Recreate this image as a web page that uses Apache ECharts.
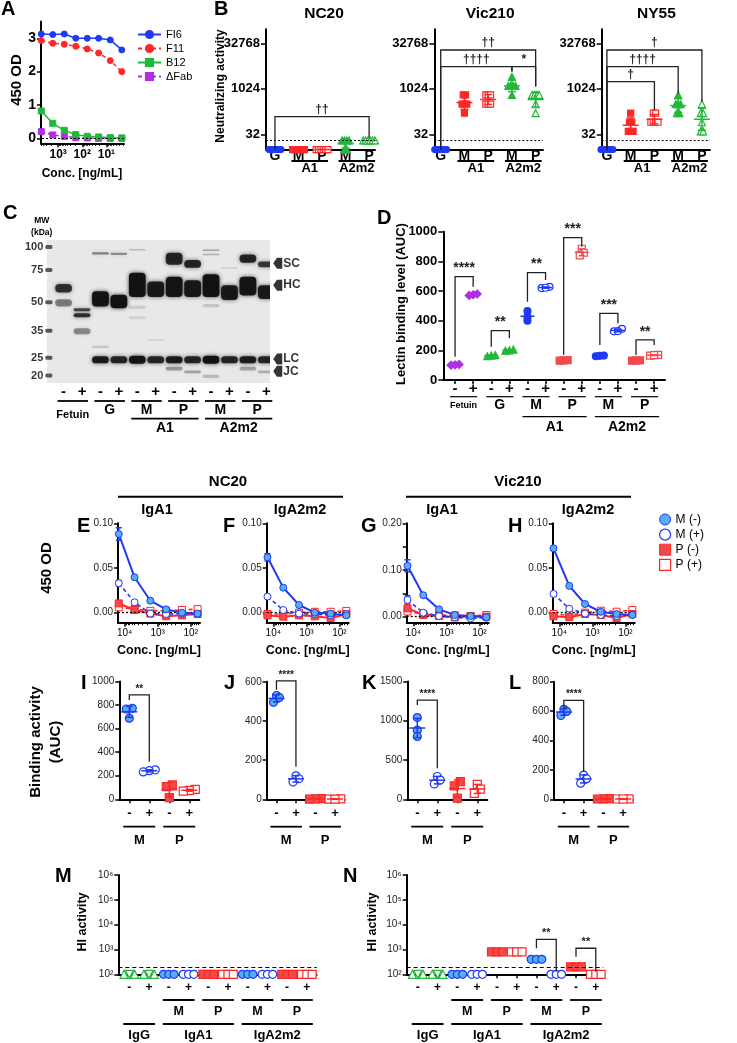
<!DOCTYPE html>
<html><head><meta charset="utf-8">
<script src="https://cdn.jsdelivr.net/npm/echarts@6.0.0/dist/echarts.min.js"></script>
<style>html,body{margin:0;padding:0;background:#fff;}#c{width:737px;height:1043px;}</style>
</head><body><div id="c"></div>
<script>
const FONT = '"Liberation Sans", Arial, Helvetica, sans-serif';
const SUP = {1:'¹',2:'²',3:'³',4:'⁴',5:'⁵',6:'⁶'};
const pow10 = v => '10' + SUP[Math.round(v)];

/* ---------- Panel A : ELISA curves ---------- */
const concA = [5000, 1667, 556, 185, 62, 21, 6.9, 2.3];
const odFI6 = [3.13, 3.11, 3.13, 3.00, 3.00, 3.00, 2.95, 2.65];
const odF11 = [2.93, 2.85, 2.82, 2.76, 2.68, 2.56, 2.33, 2.00];
const odB12 = [0.82, 0.45, 0.24, 0.11, 0.06, 0.04, 0.02, 0.01];
const odDFab = [0.20, 0.10, 0.06, 0.02, 0.01, 0.00, 0.00, 0.00];
const aXTicks = [1000, 100, 10];
const aYTicks = [0, 1, 2, 3];

/* ---------- Panel B : neutralizing titers ---------- */
const bCats = ['G', 'M', 'P', 'M', 'P'];
const bGroups = ['A1', 'A2m2'];
const bTitles = ['NC20', 'Vic210', 'NY55'];
const bYTicks = [32, 1024, 32768];
const bLimit = 20;
const nc20 = [[10,10,10,10,10,10],[10,10,10,10,10,10],[10,10,10,10,10,10],[20,20,20,20,10,10],[20,20,20,20,20,20]];
const vic210 = [[10,10,10,10,10,10],[640,640,320,320,320,160],[640,640,640,320,320,320],[2560,1280,1280,1280,1280,640],[640,640,640,640,320,160]];
const ny55 = [[10,10,10,10,10,10],[160,80,80,40,40,40],[160,160,80,80,80,80],[640,320,320,320,160,160],[320,160,160,80,40,40]];
const nc20Brk = [[0,4,10,123,25,'††']];
const vic210Brk = [[0,4,10,19700,1210,'††'],[0,3,10,5560,3800,'††††'],[3,4,3800,5560,1210,'*']];
const ny55Brk = [[0,4,10,19700,385,'†'],[0,3,10,5560,724,'††††'],[0,2,10,1770,204,'†']];

/* ---------- Panel C : gel ---------- */
const mwLadder = [100, 75, 50, 35, 25, 20];
const gelSigns = ['-','+','-','+','-','+','-','+','-','+','-','+'];
const gelPairs = ['Fetuin','G','M','P','M','P'];
const chainLabels = ['SC','HC','LC','JC'];
const chainKDa = [81.5, 62, 24.6, 21.1];
// [lane, kDa top, kDa bottom, intensity]
const gelBands = [
 [1,63,56.5,0.78],[1,52,47.5,0.45],
 [2,46.5,44.8,0.7],[2,43.6,41.5,0.8],[2,36.2,33.5,0.4],
 [3,93.5,91,0.45],[3,57.5,47.5,0.96],[3,29,28.2,0.15],[3,25.5,23.3,0.9],
 [4,93,90.5,0.4],[4,55,46.5,0.97],[4,25.5,23.3,0.85],
 [5,97.5,96,0.2],[5,72.5,53.5,0.96],[5,25.6,23.2,0.95],[5,48,46,0.12],[5,42,40.5,0.1],
 [6,65,53.5,0.92],[6,25.5,23.3,0.85],[6,31.5,30.8,0.1],
 [7,93,80,0.85],[7,69,53.5,0.95],[7,25.5,23.3,0.9],[7,22.3,21.3,0.35],
 [8,85,77,0.85],[8,66,53.5,0.92],[8,25.5,23.3,0.85],[8,21.3,20.6,0.3],
 [9,97,95,0.3],[9,92,90.5,0.25],[9,71,53.5,0.97],[9,25.6,23.2,0.97],[9,49,47,0.15],[9,20.2,19.4,0.2],
 [10,62,51.5,0.92],[10,25.5,23.3,0.85],[10,77.5,76.5,0.1],
 [11,91,82,0.85],[11,69,54.5,0.95],[11,25.5,23.3,0.9],[11,22.3,21.3,0.3],
 [12,83.5,77.6,0.75],[12,62,52.2,0.9],[12,25.5,23.3,0.85],[12,21.3,20.6,0.25]
];

/* ---------- Panel D : lectin binding ---------- */
const dSigns = ['-','+','-','+','-','+','-','+','-','+','-','+'];
const dPairs = ['Fetuin','G','M','P','M','P'];
const dAUC = [[100,105,102],[570,580,575],[160,165,168],[198,205,200],[465,425,400],[628,620,622],[132,130,134],[885,858,840],[160,163,165],[345,328,330],[132,130,133],[170,165,168]];
const dYTicks = [0, 200, 400, 600, 800, 1000];
const dBrk = [[0,1,157,697,629,'****'],[2,3,225,333,281,'**'],[4,5,528,724,674,'**'],[6,7,169,960,899,'***'],[8,9,236,449,382,'***'],[10,11,169,270,236,'**']];

/* ---------- Panels E-H : ELISA after treatment ---------- */
const concEH = [15000, 5000, 1667, 556, 185, 62];
const ehXTicks = [10000, 1000, 100];
const eMNeg = [0.088, 0.0396, 0.0134, 0.0037, 0.000, -0.001];
const eMPos = [0.033, 0.0116, -0.001, -0.0015, -0.001, -0.0015];
const ePNeg = [0.0104, 0.003, -0.001, -0.004, -0.003, -0.0015];
const ePPos = [0.006, 0.004, 0.002, 0.002, 0.003, 0.004];
const fMNeg = [0.062, 0.028, 0.0086, 0.000, -0.001, -0.003];
const fMPos = [0.018, 0.003, -0.001, -0.0015, -0.003, -0.0015];
const fPNeg = [-0.003, -0.0045, -0.003, -0.004, -0.006, -0.0015];
const fPPos = [-0.0015, -0.0015, 0.000, 0.001, 0.001, 0.002];
const gMNeg = [0.109, 0.046, 0.0157, 0.0036, 0.0014, -0.0014];
const gMPos = [0.036, 0.0086, 0.0014, -0.0014, -0.0036, -0.002];
const gPNeg = [0.018, 0.0036, 0.0014, -0.0014, 0.0014, 0.000];
const gPPos = [0.011, 0.0057, 0.0036, 0.0029, 0.0014, 0.0036];
const hMNeg = [0.072, 0.030, 0.0097, 0.001, -0.0015, -0.0026];
const hMPos = [0.021, 0.0045, -0.001, -0.0026, -0.0037, -0.002];
const hPNeg = [-0.004, -0.005, -0.0015, -0.0026, -0.006, -0.0015];
const hPPos = [-0.0015, -0.0026, 0.000, 0.0022, 0.0011, 0.003];
const sdFirstMNeg = [0.007, 0.004, 0.013, 0.002];
const sdFirstMPos = [0.003, 0.002, 0.009, 0.002];
const ehSeriesNames = ['M (-)', 'M (+)', 'P (-)', 'P (+)'];

/* ---------- Panels I-L : binding AUC ---------- */
const ilSigns = ['-','+','-','+'];
const ilPairs = ['M','P'];
const aucI = [[772,766,688],[250,243,232],[122,108,14],[85,75,70]];
const aucJ = [[530,520,495],[120,105,88],[3,2,1],[2,1,1]];
const aucK = [[1040,880,800],[290,245,195],[225,170,15],[190,130,75]];
const aucL = [[612,598,570],[165,140,110],[5,3,2],[3,2,2]];
const brkI = [[0,1,842,885,319,'**']];
const brkJ = [[0,1,560,605,166,'****']];
const brkK = [[0,1,1200,1263,394,'****']];
const brkL = [[0,1,617,673,188,'****']];

/* ---------- Panels M-N : HI activity ---------- */
const hiSigns = ['-','+','-','+','-','+','-','+','-','+'];
const hiSub = ['M','P','M','P'];
const hiGroups = ['IgG','IgA1','IgA2m2'];
const hiYTicks = [100, 1000, 10000, 100000, 1000000];
const hiLimit = 200;
const hiM = [[100,100,100],[100,100,100],[100,100,100],[100,100,100],[100,100,100],[100,100,100],[100,100,100],[100,100,100],[100,100,100],[100,100,100]];
const hiN = [[100,100,100],[100,100,100],[100,100,100],[100,100,100],[800,800,800],[800,800,800],[400,400,400],[100,100,100],[200,200,200],[100,100,100]];
const brkN = [[6,7,1120,2570,128,'**'],[8,9,513,1120,128,'**']];

/* ================= builders ================= */
const BLUE = '#1f3af5', RED = '#ff2626', GREEN = '#22b83a', PURPLE = '#b02fe0', LBLUE = '#55aef0', LRED = '#f04a4a';
const grids = [], xAxes = [], yAxes = [], series = [];

function mkAxis(gi, o) {
  return {
    gridIndex: gi, type: 'value', position: o.position, min: o.min, max: o.max, inverse: !!o.inverse,
    splitLine: {show: false}, minorTick: {show: false}, silent: true,
    axisLine: {show: o.line !== false, onZero: false, lineStyle: {color: '#000', width: o.lw || 2}},
    axisTick: {show: !!o.ticks, customValues: o.ticks || [], length: o.tickLen || 4, lineStyle: {color: '#000', width: o.tw || 1.5}},
    axisLabel: {show: !!o.labels, customValues: o.labels || [], formatter: o.fmt, margin: o.margin == null ? 4 : o.margin,
      color: o.lc || '#000', fontFamily: FONT, fontSize: o.fs || 11, fontWeight: o.fw || 'normal', hideOverlap: false}
  };
}
function grid(g) {
  const gi = grids.length;
  grids.push({left: g.left, top: g.top, width: g.width, height: g.height, show: !!g.bg, backgroundColor: g.bg || 'transparent', borderWidth: 0});
  const xi = xAxes.length; xAxes.push(mkAxis(gi, Object.assign({position: 'bottom'}, g.x)));
  const yi = yAxes.length; yAxes.push(mkAxis(gi, Object.assign({position: 'left'}, g.y)));
  if (g.xMinor) xAxes.push(mkAxis(gi, {position: 'bottom', min: g.x.min, max: g.x.max, inverse: g.x.inverse, line: false, ticks: g.xMinor, tickLen: 2.5, tw: 1}));
  return {gi, xi, yi};
}
function minorLog(lo, hi) {
  const out = [];
  for (let n = 0; n <= 5; n++) for (let k = 2; k <= 9; k++) { const v = Math.log10(k * Math.pow(10, n)); if (v > lo && v < hi) out.push(v); }
  return out;
}
function spread(vals, tol, s) {
  const idx = vals.map((v, i) => i).sort((a, b) => vals[a] - vals[b]);
  const off = new Array(vals.length).fill(0);
  let i = 0;
  while (i < idx.length) {
    let j = i;
    while (j + 1 < idx.length && vals[idx[j + 1]] - vals[idx[i]] <= tol) j++;
    const n = j - i + 1;
    for (let k = 0; k < n; k++) off[idx[i + k]] = (k - (n - 1) / 2) * s;
    i = j + 1;
  }
  return off;
}
function stat(a) {
  const m = a.reduce((s, v) => s + v, 0) / a.length;
  const sd = a.length > 1 ? Math.sqrt(a.reduce((s, v) => s + (v - m) * (v - m), 0) / (a.length - 1)) : 0;
  return [m, sd];
}
function dots(ref, x, vals, st, s, tol) {
  const off = spread(vals, tol, s);
  series.push({type: 'scatter', xAxisIndex: ref.xi, yAxisIndex: ref.yi, clip: false, silent: true, z: 3,
    symbol: st.symbol, symbolSize: st.size,
    itemStyle: {color: st.fill, borderColor: st.stroke, borderWidth: st.bw || 1.2, opacity: 1},
    data: vals.map((v, i) => ({value: [x + off[i], v], symbolRotate: st.rot ? st.rot[i % st.rot.length] : 0}))});
}
function meanSd(ref, items, hw, cw, color, lw) {
  series.push({type: 'custom', xAxisIndex: ref.xi, yAxisIndex: ref.yi, silent: true, z: 4, clip: false,
    data: items,
    renderItem: (p, api) => {
      const x = api.value(0), m = api.value(1), sd = api.value(2);
      const pm = api.coord([x, m]), pt = api.coord([x, m + sd]), pb = api.coord([x, m - sd]);
      const st = {stroke: color, lineWidth: lw};
      const ch = [];
      if (hw > 0) ch.push({type: 'line', shape: {x1: pm[0] - hw, y1: pm[1], x2: pm[0] + hw, y2: pm[1]}, style: st});
      if (sd > 0) {
        ch.push({type: 'line', shape: {x1: pm[0], y1: pt[1], x2: pm[0], y2: pb[1]}, style: st});
        ch.push({type: 'line', shape: {x1: pm[0] - cw, y1: pt[1], x2: pm[0] + cw, y2: pt[1]}, style: st});
        ch.push({type: 'line', shape: {x1: pm[0] - cw, y1: pb[1], x2: pm[0] + cw, y2: pb[1]}, style: st});
      }
      return {type: 'group', children: ch};
    }});
}
function brackets(ref, list, tf, fs, fw) {
  series.push({type: 'custom', xAxisIndex: ref.xi, yAxisIndex: ref.yi, silent: true, z: 5, clip: false,
    data: list.map(b => [b[0], b[1], tf(b[2]), tf(b[3]), tf(b[4])]),
    renderItem: (p, api) => {
      const x1 = api.value(0), x2 = api.value(1);
      const a = api.coord([x1, api.value(2)]), b = api.coord([x1, api.value(3)]), c = api.coord([x2, api.value(3)]), d = api.coord([x2, api.value(4)]);
      return {type: 'group', children: [
        {type: 'polyline', shape: {points: [a, b, c, d]}, style: {stroke: '#222', lineWidth: 1.3, fill: 'none'}},
        {type: 'text', x: (b[0] + c[0]) / 2, y: b[1] - 1, style: {text: list[p.dataIndex][5], fill: '#222', fontFamily: FONT, fontSize: fs, fontWeight: fw || 'bold', align: 'center', verticalAlign: 'bottom', textAlign: 'center', textVerticalAlign: 'bottom'}}
      ]};
    }});
}
function hline(ref, y, type, w) {
  series.push({type: 'scatter', xAxisIndex: ref.xi, yAxisIndex: ref.yi, data: [], silent: true,
    markLine: {silent: true, symbol: ['none', 'none'], label: {show: false}, animation: false,
      lineStyle: {color: '#000', type: type, width: w || 1.2}, data: [{yAxis: y}]}});
}
function lineS(ref, name, xs, ys, st) {
  series.push({type: 'line', name, xAxisIndex: ref.xi, yAxisIndex: ref.yi, clip: false, silent: true, z: st.z || 3,
    data: xs.map((x, i) => [x, ys[i]]), symbol: st.symbol, symbolSize: st.size, showSymbol: true, showAllSymbol: true,
    itemStyle: {color: st.fill, borderColor: st.stroke, borderWidth: st.bw || 1},
    lineStyle: {color: st.stroke, width: st.lw || 1.5, type: st.dash ? [4, 3] : 'solid'}});
}

/* ---- A ---- */
const lgA = v => Math.log10(v);
const A = grid({left: 41, top: 21.6, width: 83, height: 121.7,
  x: {min: 0.27, max: 3.71, inverse: true, ticks: aXTicks.map(lgA), labels: aXTicks.map(lgA), fmt: pow10, fs: 12, fw: 'bold', margin: 5},
  y: {min: -0.15, max: 3.5, ticks: aYTicks, labels: aYTicks, fmt: v => String(Math.round(v)), fs: 14, fw: 'bold', margin: 5},
  xMinor: minorLog(0.27, 3.71)});
const xA = concA.map(lgA);
hline(A, 0, [2, 2], 1.2);
lineS(A, 'ΔFab', xA, odDFab, {symbol: 'rect', size: 6, fill: PURPLE, stroke: PURPLE, dash: true});
lineS(A, 'B12', xA, odB12, {symbol: 'rect', size: 6, fill: GREEN, stroke: GREEN});
lineS(A, 'F11', xA, odF11, {symbol: 'circle', size: 6, fill: RED, stroke: RED, dash: true});
lineS(A, 'FI6', xA, odFI6, {symbol: 'circle', size: 6, fill: BLUE, stroke: BLUE});

/* ---- B ---- */
const l2 = v => Math.log2(v);
const bStyles = [
  {symbol: 'circle', size: 6, fill: BLUE, stroke: BLUE, c: BLUE},
  {symbol: 'rect', size: 6, fill: RED, stroke: RED, c: RED},
  {symbol: 'rect', size: 6, fill: '#fff', stroke: RED, c: RED},
  {symbol: 'triangle', size: 7, fill: GREEN, stroke: GREEN, c: GREEN},
  {symbol: 'triangle', size: 7, fill: '#fff', stroke: GREEN, c: GREEN}
];
function bPanel(left, width, xmin, xmax, titers, brk) {
  const ref = grid({left, top: 29.3, width, height: 120,
    x: {min: xmin, max: xmax, labels: [0, 1, 2, 3, 4], fmt: v => bCats[Math.round(v)], fs: 14, fw: 'bold', margin: 0},
    y: {min: 3.35, max: 16.54, ticks: bYTicks.map(l2), labels: bYTicks.map(l2), fmt: v => String(Math.round(Math.pow(2, v))), fs: 13, fw: 'bold', margin: 6, tickLen: 5}});
  hline(ref, l2(bLimit), [2, 2], 1.1);
  titers.forEach((g, i) => {
    const lv = g.map(l2);
    const st = stat(lv);
    meanSd(ref, [[i, st[0], st[1]]], 8, 4, bStyles[i].c, 1.5);
    dots(ref, i, lv, bStyles[i], 0.1, 0.3);
  });
  brackets(ref, brk, l2, 12, 'bold');
  return ref;
}
const B1 = bPanel(266, 109, -0.38, 4.25, nc20, nc20Brk);
const B2 = bPanel(434.3, 108.7, -0.27, 4.31, vic210, vic210Brk);
const B3 = bPanel(601.7, 108.3, -0.22, 4.34, ny55, ny55Brk);

/* ---- C ---- */
const lg = v => Math.log10(v);
const C = grid({left: 47, top: 240, width: 223, height: 143, bg: '#e8e8e8',
  x: {min: 0.1, max: 12.2, line: false}, y: {min: 1.2605, max: 2.038, line: false}});
series.push({type: 'custom', xAxisIndex: C.xi, yAxisIndex: C.yi, silent: true, clip: true, z: 2,
  data: gelBands.map(b => [b[0], lg(b[1]), lg(b[2]), b[3]]),
  renderItem: (p, api) => {
    const a = api.coord([api.value(0), api.value(1)]), b = api.coord([api.value(0), api.value(2)]);
    const hw = 8.4, h = Math.max(1.6, b[1] - a[1]), op = api.value(3);
    return {type: 'rect', shape: {x: a[0] - hw, y: a[1], width: 2 * hw, height: h, r: Math.min(4, h / 2)},
      style: {fill: 'rgba(16,16,16,' + op + ')', shadowBlur: 4, shadowColor: 'rgba(16,16,16,' + (op * 0.8) + ')'}};
  }});
series.push({type: 'scatter', xAxisIndex: C.xi, yAxisIndex: C.yi, silent: true, clip: false, z: 3,
  symbol: 'roundRect', symbolSize: [7, 4], itemStyle: {color: '#333'},
  data: mwLadder.map(m => [0.2, lg(m)]),
  label: {show: true, position: 'left', distance: 2, formatter: p => String(mwLadder[p.dataIndex]), color: '#000', fontFamily: FONT, fontSize: 11, fontWeight: 'bold'}});
series.push({type: 'scatter', xAxisIndex: C.xi, yAxisIndex: C.yi, silent: true, clip: false, z: 3,
  symbol: 'path://M0,5L5,0L12,0L12,10L5,10Z', symbolSize: [9, 11], itemStyle: {color: '#000'},
  data: chainKDa.map(k => [12.62, lg(k)]),
  label: {show: true, position: 'right', distance: 1, formatter: p => chainLabels[p.dataIndex], color: '#000', fontFamily: FONT, fontSize: 12, fontWeight: 'bold'}});

/* ---- D ---- */
const dStyles = [
  {symbol: 'diamond', size: 8, fill: PURPLE, stroke: PURPLE, c: PURPLE},
  {symbol: 'diamond', size: 8, fill: PURPLE, stroke: PURPLE, c: PURPLE},
  {symbol: 'triangle', size: 7, fill: GREEN, stroke: GREEN, c: GREEN},
  {symbol: 'triangle', size: 7, fill: GREEN, stroke: GREEN, c: GREEN},
  {symbol: 'circle', size: 7, fill: BLUE, stroke: BLUE, c: BLUE},
  {symbol: 'circle', size: 7, fill: '#fff', stroke: BLUE, c: BLUE},
  {symbol: 'rect', size: 7, fill: LRED, stroke: LRED, c: LRED},
  {symbol: 'rect', size: 7, fill: '#fff', stroke: LRED, c: LRED},
  {symbol: 'circle', size: 7, fill: BLUE, stroke: BLUE, c: BLUE},
  {symbol: 'circle', size: 7, fill: '#fff', stroke: BLUE, c: BLUE},
  {symbol: 'rect', size: 7, fill: LRED, stroke: LRED, c: LRED},
  {symbol: 'rect', size: 7, fill: '#fff', stroke: LRED, c: LRED}
];
const D = grid({left: 443.3, top: 231.7, width: 221.7, height: 148.3,
  x: {min: -0.65, max: 11.6, ticks: dSigns.map((s, i) => i), labels: dSigns.map((s, i) => i), fmt: v => dSigns[Math.round(v)], fs: 15, fw: 'bold', margin: 1, tickLen: 4},
  y: {min: 0, max: 1000, ticks: dYTicks, labels: dYTicks, fmt: v => String(Math.round(v)), fs: 13, fw: 'bold', margin: 6, tickLen: 5}});
dAUC.forEach((g, i) => {
  const st = stat(g);
  meanSd(D, [[i, st[0], st[1]]], 7, 3, dStyles[i].c, 1.5);
  dots(D, i, g, dStyles[i], 0.22, 20);
});
brackets(D, dBrk, v => v, 14, 'bold');

/* ---- E-H ---- */
const ehStyles = [
  {symbol: 'circle', size: 7, fill: LBLUE, stroke: BLUE, lw: 2, z: 6},
  {symbol: 'circle', size: 7, fill: '#fff', stroke: BLUE, lw: 1.6, dash: true, z: 5},
  {symbol: 'rect', size: 7, fill: LRED, stroke: RED, lw: 2, z: 4},
  {symbol: 'rect', size: 7, fill: '#fff', stroke: RED, lw: 1.6, dash: true, z: 3}
];
const xEH = concEH.map(lgA);
function ehPanel(left, ymax, ymin, yT, yL, sets, k) {
  const h = ymax === 0.2 ? 99 : 99.4;
  const ref = grid({left, top: 523.3, width: 82, height: h,
    x: {min: 1.72, max: 4.2, inverse: true, ticks: ehXTicks.map(lgA), labels: ehXTicks.map(lgA), fmt: pow10, fs: 10, margin: 6, tickLen: 4},
    y: {min: ymin, max: ymax, ticks: yT, labels: yL, fmt: v => v.toFixed(2), fs: 10, margin: 5, lc: '#222', tickLen: 4},
    xMinor: minorLog(1.72, 4.2)});
  hline(ref, 0, [2, 2], 1.3);
  [3, 2, 1, 0].forEach(j => lineS(ref, ehSeriesNames[j], xEH, sets[j], ehStyles[j]));
  meanSd(ref, [[xEH[0], sets[0][0], sdFirstMNeg[k]], [xEH[0], sets[1][0], sdFirstMPos[k]]], 0, 3, BLUE, 1.5);
  return ref;
}
const E = ehPanel(118, 0.1, -0.0112, [0, 0.05, 0.1], [0, 0.05, 0.1], [eMNeg, eMPos, ePNeg, ePPos], 0);
const F = ehPanel(266.7, 0.1, -0.0112, [0, 0.05, 0.1], [0, 0.05, 0.1], [fMNeg, fMPos, fPNeg, fPPos], 1);
const G = ehPanel(406.7, 0.2, -0.012, [0, 0.05, 0.1, 0.15, 0.2], [0, 0.1, 0.2], [gMNeg, gMPos, gPNeg, gPPos], 2);
const H = ehPanel(552.7, 0.1, -0.0112, [0, 0.05, 0.1], [0, 0.05, 0.1], [hMNeg, hMPos, hPNeg, hPPos], 3);

/* ---- I-L ---- */
const ilStyles = [
  {symbol: 'circle', size: 8, fill: LBLUE, stroke: BLUE, c: BLUE},
  {symbol: 'circle', size: 8, fill: '#fff', stroke: BLUE, c: BLUE},
  {symbol: 'rect', size: 8, fill: LRED, stroke: RED, c: RED},
  {symbol: 'rect', size: 8, fill: '#fff', stroke: RED, c: RED}
];
function ilPanel(left, width, top, ymax, step, data, brk) {
  const yt = []; for (let v = 0; v <= ymax + 1e-9; v += step) yt.push(v);
  const ref = grid({left, top, width, height: 799.3 - top,
    x: {min: -0.5, max: 3.5, ticks: [0, 1, 2, 3], labels: [0, 1, 2, 3], fmt: v => ilSigns[Math.round(v)], fs: 13, fw: 'bold', margin: 8, tickLen: 4},
    y: {min: 0, max: ymax, ticks: yt, labels: yt, fmt: v => String(Math.round(v)), fs: 10, margin: 5, lc: '#222', tickLen: 4}});
  data.forEach((g, i) => {
    const st = stat(g);
    meanSd(ref, [[i, st[0], st[1]]], 8, 3.5, ilStyles[i].c, 1.5);
    dots(ref, i, g, ilStyles[i], 0.3, ymax * 0.05);
  });
  brackets(ref, brk, v => v, 10, 'bold');
  return ref;
}
const PI = ilPanel(119.3, 80, 681.4, 1000, 200, aucI, brkI);
const PJ = ilPanel(266.7, 78, 681.8, 600, 200, aucJ, brkJ);
const PK = ilPanel(407.3, 80, 681.4, 1500, 500, aucK, brkK);
const PL = ilPanel(554, 79, 681.7, 800, 200, aucL, brkL);

/* ---- M-N ---- */
const hiStyles = [
  {symbol: 'triangle', size: 8, fill: '#fff', stroke: GREEN, rot: [0, 180, 0]},
  {symbol: 'triangle', size: 8, fill: '#fff', stroke: GREEN, rot: [0, 180, 0]},
  {symbol: 'circle', size: 8, fill: LBLUE, stroke: BLUE},
  {symbol: 'circle', size: 8, fill: '#fff', stroke: BLUE},
  {symbol: 'rect', size: 8, fill: LRED, stroke: RED},
  {symbol: 'rect', size: 8, fill: '#fff', stroke: RED},
  {symbol: 'circle', size: 8, fill: LBLUE, stroke: BLUE},
  {symbol: 'circle', size: 8, fill: '#fff', stroke: BLUE},
  {symbol: 'rect', size: 8, fill: LRED, stroke: RED},
  {symbol: 'rect', size: 8, fill: '#fff', stroke: RED}
];
function hiPanel(left, width, xmax, data, brk) {
  const ref = grid({left, top: 875, width, height: 99.3,
    x: {min: -0.56, max: xmax, ticks: hiSigns.map((s, i) => i), labels: hiSigns.map((s, i) => i), fmt: v => hiSigns[Math.round(v)], fs: 12, fw: 'bold', margin: 7, tickLen: 4},
    y: {min: 2, max: 6, ticks: hiYTicks.map(lg), labels: hiYTicks.map(lg), fmt: pow10, fs: 10, margin: 5, lc: '#222', tickLen: 4}});
  hline(ref, lg(hiLimit), [4, 3], 1.1);
  data.forEach((g, i) => dots(ref, i, g.map(lg), hiStyles[i], 0.27, 0.05));
  if (brk) brackets(ref, brk, lg, 11, 'bold');
  return ref;
}
const PM = hiPanel(118.3, 198.4, 9.5, hiM, null);
const PN = hiPanel(406.7, 196.6, 9.38, hiN, brkN);

/* ================= option ================= */
const option = {
  animation: false, backgroundColor: '#fff', textStyle: {fontFamily: FONT},
  grid: grids, xAxis: xAxes, yAxis: yAxes, series,
  legend: [
    {left: 137, top: 29, padding: 0, orient: 'vertical', itemWidth: 23, itemHeight: 9, itemGap: 3, selectedMode: false,
      textStyle: {fontFamily: FONT, fontSize: 11, color: '#000'}, data: ['FI6', 'F11', 'B12', 'ΔFab']},
    {left: 659, top: 513.5, padding: 0, orient: 'vertical', itemWidth: 11, itemHeight: 11, itemGap: 3, selectedMode: false,
      textStyle: {fontFamily: FONT, fontSize: 12, color: '#000'},
      data: [
        {name: 'M (-)', icon: 'circle', itemStyle: {color: LBLUE, borderColor: BLUE, borderWidth: 1}},
        {name: 'M (+)', icon: 'circle', itemStyle: {color: '#fff', borderColor: BLUE, borderWidth: 1.2}},
        {name: 'P (-)', icon: 'rect', itemStyle: {color: LRED, borderColor: RED, borderWidth: 1}},
        {name: 'P (+)', icon: 'rect', itemStyle: {color: '#fff', borderColor: RED, borderWidth: 1.2}}
      ]}
  ]
};
const chart = echarts.init(document.getElementById('c'), null, {renderer: 'canvas', width: 737, height: 1043});
chart.setOption(option);

/* ================= annotations (text, group bars) ================= */
const X = (ref, v) => chart.convertToPixel({xAxisIndex: ref.xi}, v);
const gr = [];
function T(x, y, text, size, o) {
  o = o || {};
  return {type: 'text', x, y, rotation: o.rot || 0, silent: true, z: 100,
    style: {text, fill: '#000', fontFamily: FONT, fontSize: size, fontWeight: o.w || 'bold',
      align: o.align || 'center', verticalAlign: o.va || 'middle', textAlign: o.align || 'center', textVerticalAlign: o.va || 'middle'}};
}
function Ln(x1, y1, x2, y2, w) { return {type: 'line', silent: true, z: 100, shape: {x1, y1, x2, y2}, style: {stroke: '#000', lineWidth: w || 1.8}}; }
const R90 = Math.PI / 2;
// panel letters
[['A', 1, -1], ['B', 214, -1], ['C', 3, 203], ['D', 377, 208], ['E', 77, 516], ['F', 223, 516], ['G', 361, 516], ['H', 508, 516],
 ['I', 81, 673], ['J', 224, 673], ['K', 362, 673], ['L', 509, 673], ['M', 55, 866], ['N', 343, 866]]
  .forEach(p => gr.push(T(p[1], p[2], p[0], 20, {align: 'left', va: 'top'})));
// A
gr.push(T(17, 80, '450 OD', 15, {rot: R90}));
gr.push(T(82, 174, 'Conc. [ng/mL]', 12));
// B
gr.push(T(221, 86, 'Neutralizing activity', 12, {rot: R90}));
[B1, B2, B3].forEach((ref, k) => {
  gr.push(T((X(ref, 0) + X(ref, 4)) / 2 + 2, 14, bTitles[k], 15.5));
  [[1, 2], [3, 4]].forEach((pr, j) => {
    const a = X(ref, pr[0]) - 7, b = X(ref, pr[1]) + 6;
    gr.push(Ln(a, 161, b, 161));
    gr.push(T((a + b) / 2, 168, bGroups[j], 13));
  });
});
// C
gr.push(T(41.7, 221, 'MW', 8.5));
gr.push(T(41.7, 233, '(kDa)', 8.5));
gelSigns.forEach((s, i) => gr.push(T(X(C, i + 1), 391.7, s, 15)));
gelPairs.forEach((s, k) => {
  const a = X(C, 2 * k + 1) - 6, b = X(C, 2 * k + 2) + 6;
  gr.push(Ln(a, 401, b, 401));
  gr.push(T((a + b) / 2, k === 0 ? 415 : 410.5, s, k === 0 ? 11 : 14));
});
[[5, 8, 'A1'], [9, 12, 'A2m2']].forEach(g => {
  const a = X(C, g[0]) - 6, b = X(C, g[1]) + 6;
  gr.push(Ln(a, 418.7, b, 418.7));
  gr.push(T((a + b) / 2, 428.5, g[2], 14));
});
// D
gr.push(T(401, 304, 'Lectin binding level (AUC)', 13, {rot: R90}));
dPairs.forEach((s, k) => {
  const a = X(D, 2 * k) - 5, b = X(D, 2 * k + 1) + 4;
  gr.push(Ln(a, 396.7, b, 396.7, 1.2));
  gr.push(T((a + b) / 2, 405.5, s, k === 0 ? 9 : 14));
});
[[4, 7, 'A1'], [8, 11, 'A2m2']].forEach(g => {
  const a = X(D, g[0]) - 5, b = X(D, g[1]) + 5;
  gr.push(Ln(a, 416.7, b, 416.7, 1.2));
  gr.push(T((a + b) / 2, 427.5, g[2], 14));
});
// E-H
gr.push(T(47, 568, '450 OD', 15, {rot: R90}));
[E, F, G, H].forEach(ref => gr.push(T(X(ref, 2.96), 651, 'Conc. [ng/mL]', 12.5)));
gr.push(T(228, 482, 'NC20', 15)); gr.push(Ln(118, 496.7, 343, 496.7, 2));
gr.push(T(518, 482, 'Vic210', 15)); gr.push(Ln(406, 496.7, 631, 496.7, 2));
[[157, 'IgA1'], [300, 'IgA2m2'], [442, 'IgA1'], [588, 'IgA2m2']].forEach(t => gr.push(T(t[0], 509.5, t[1], 14.5)));
// I-L
gr.push(T(36, 742, 'Binding activity', 15, {rot: R90}));
gr.push(T(56, 742, '(AUC)', 15, {rot: R90}));
[PI, PJ, PK, PL].forEach(ref => {
  ilPairs.forEach((s, k) => {
    const a = X(ref, 2 * k) - 6, b = X(ref, 2 * k + 1) + 6;
    gr.push(Ln(a, 826.7, b, 826.7));
    gr.push(T((a + b) / 2, 840.5, s, 13));
  });
});
// M-N
gr.push(T(83, 922, 'HI activity', 12.5, {rot: R90}));
gr.push(T(373, 922, 'HI activity', 12.5, {rot: R90}));
[PM, PN].forEach(ref => {
  hiSub.forEach((s, k) => {
    const a = X(ref, 2 + 2 * k) - 6, b = X(ref, 3 + 2 * k) + 6;
    gr.push(Ln(a, 1000, b, 1000));
    gr.push(T((a + b) / 2, 1012, s, 12.5));
  });
  [[0, 1], [2, 5], [6, 9]].forEach((g, j) => {
    const a = X(ref, g[0]) - 6, b = X(ref, g[1]) + 6;
    gr.push(Ln(a, 1024, b, 1024));
    gr.push(T((a + b) / 2, 1035, hiGroups[j], 13));
  });
});
chart.setOption({graphic: {elements: gr}});
</script>
</body></html>
